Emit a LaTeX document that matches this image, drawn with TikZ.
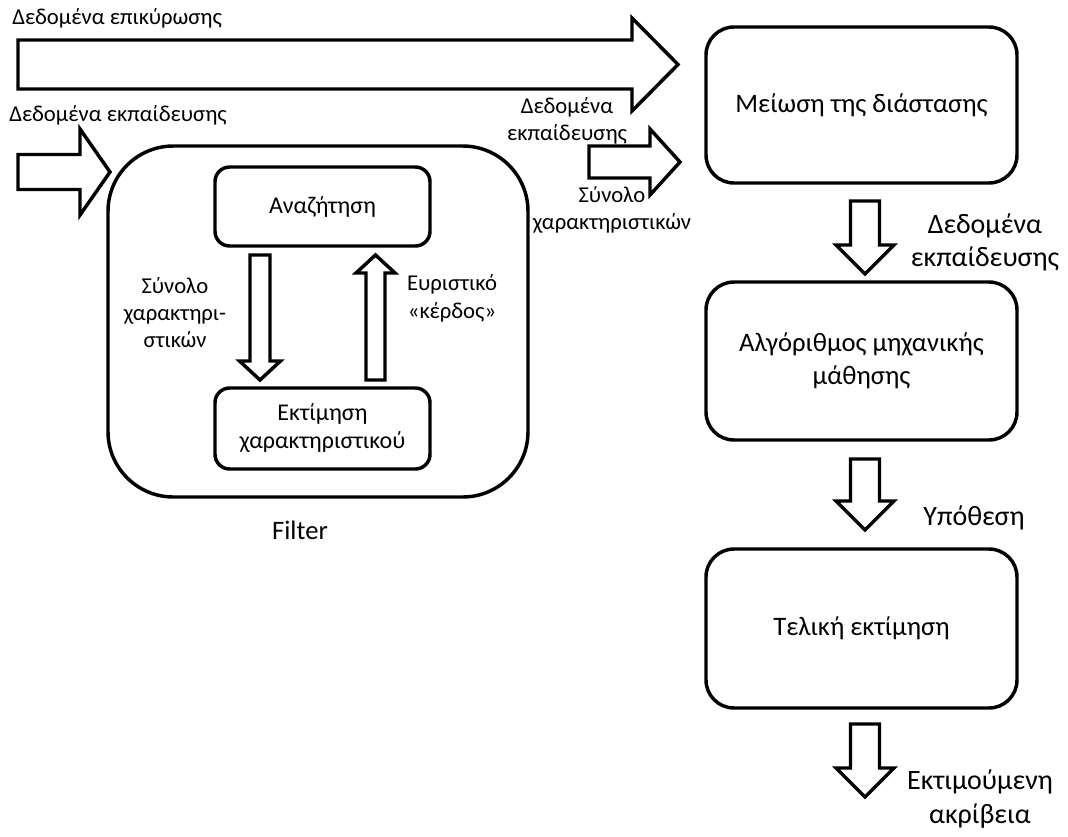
\documentclass[tikz,border=0pt]{standalone}
\usepackage{fontspec}
\setmainfont{Carlito}
\begin{document}
\begin{tikzpicture}[x=0.75pt,y=-0.75pt,
  line join=miter,
  outline/.style={draw=black,line width=2.6pt,fill=white},
  roundbox/.style={outline,rounded corners=#1,inner sep=0pt,align=center,
    font=\fontsize{20}{25}\selectfont},
  innerbox/.style={roundbox=11pt,font=\fontsize{18}{21}\selectfont},
  lbl/.style={align=center,inner sep=0pt,font=\fontsize{17}{20.5}\selectfont},
  biglbl/.style={align=center,inner sep=0pt,font=\fontsize{21}{25}\selectfont},
  pics/fatarrow/.style args={#1/#2/#3/#4}{code={%
    % length / shaft half-width / head half-width / head length
    \draw[outline] (0,-#2) -- (#1-#4,-#2) -- (#1-#4,-#3) -- (#1,0)
      -- (#1-#4,#3) -- (#1-#4,#2) -- (0,#2) -- cycle;}}
]
\useasboundingbox (0,0) rectangle (1068,836);

% filter block with its two inner steps
\node[roundbox=49pt,minimum width=420*0.75pt,minimum height=351*0.75pt] (filter) at (318,321.5) {};
\node[innerbox,minimum width=215*0.75pt,minimum height=79*0.75pt] (search) at (322.5,206.5) {Αναζήτηση};
\node[innerbox,minimum width=215*0.75pt,minimum height=81*0.75pt] (evalf) at (322.5,428.5) {Εκτίμηση\\χαρακτηριστικού};

% main pipeline
\node[roundbox=21pt,minimum width=311*0.75pt,minimum height=156*0.75pt] (reduce) at (861.5,105) {Μείωση της διάστασης};
\node[roundbox=21pt,minimum width=311*0.75pt,minimum height=158*0.75pt] (algo) at (861.5,361) {Αλγόριθμος μηχανικής\\μάθησης};
\node[roundbox=21pt,minimum width=311*0.75pt,minimum height=159*0.75pt] (final) at (861.5,628.5) {Τελική εκτίμηση};

% block arrows
\coordinate (valstart) at (18,64.5);
\coordinate (trainstart) at (18,172);
\coordinate (featstart) at (589,162);
\coordinate (downstart) at (260,255);
\coordinate (upstart) at (375.5,380);
\coordinate (r1) at (865,201);
\coordinate (r2) at (865,459);
\coordinate (r3) at (865,724);
\pic at (valstart) {fatarrow={660/24.5/46.5/46}};
\pic at (trainstart) {fatarrow={92/17.5/43/30}};
\pic at (featstart) {fatarrow={91/16/33/30}};
\pic[rotate=-90] at (downstart) {fatarrow={125/10/20.5/19}};
\pic[rotate=90] at (upstart) {fatarrow={125/9.5/19.5/18}};
\pic[rotate=-90] at (r1) {fatarrow={73/14.5/29/29}};
\pic[rotate=-90] at (r2) {fatarrow={71/14.5/29/29}};
\pic[rotate=-90] at (r3) {fatarrow={73/14.5/29/29}};

% labels
\node[lbl,anchor=west] (lval) at (12,18) {Δεδομένα επικύρωσης};
\node[lbl,anchor=west] (ltrain) at (9,115) {Δεδομένα εκπαίδευσης};
\node[lbl] (ltrain2) at (567,121) {Δεδομένα\\εκπαίδευσης};
\node[lbl] (lfeat) at (612,210) {Σύνολο\\χαρακτηριστικών};
\node[lbl] (lset) at (175,312.5) {Σύνολο\\χαρακτηρι-\\στικών};
\node[lbl] (lgain) at (452,298.5) {Ευριστικό\\«κέρδος»};
\node[biglbl] (ltrain3) at (985,242.5) {Δεδομένα\\εκπαίδευσης};
\node[biglbl] (lhyp) at (974,518) {Υπόθεση};
\node[biglbl] (lacc) at (980,799) {Εκτιμούμενη\\ακρίβεια};
\node[biglbl,font=\fontsize{20}{25}\selectfont] (lfilter) at (300,530) {Filter};
\end{tikzpicture}
\end{document}
